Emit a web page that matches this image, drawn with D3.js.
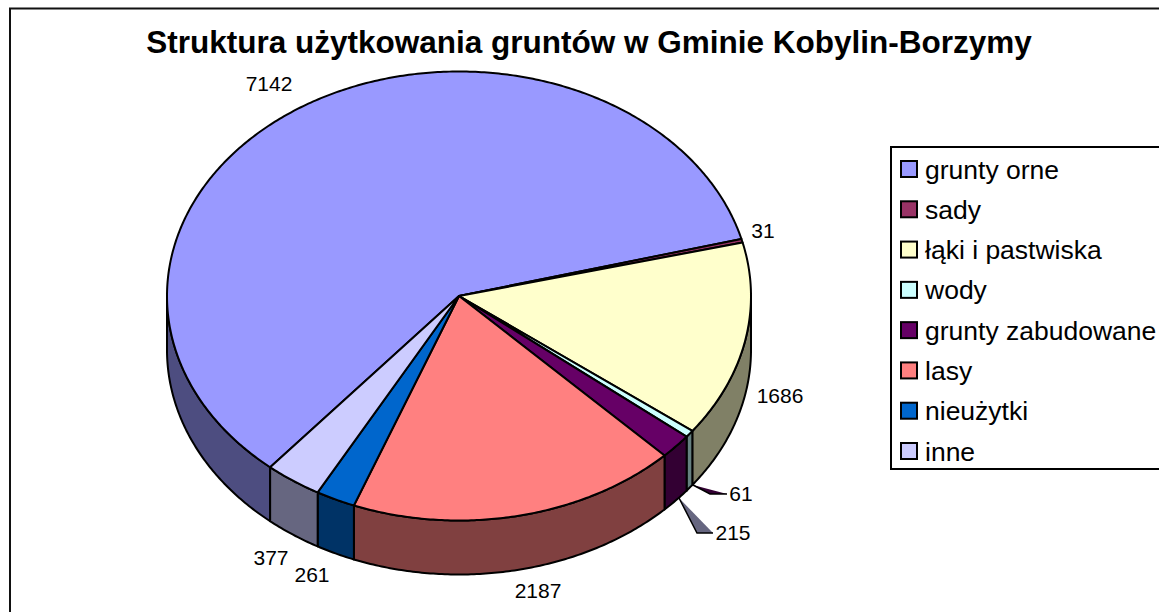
<!DOCTYPE html>
<html><head><meta charset="utf-8">
<script src="https://cdn.jsdelivr.net/npm/d3@7/dist/d3.min.js"></script>
<style>html,body{margin:0;padding:0;background:#fff}svg{display:block}text{font-family:"Liberation Sans",Arial,sans-serif;fill:#000}</style>
</head><body><svg id="c" width="1159" height="612"></svg>
<script>
const categories=["grunty orne","sady","łąki i pastwiska","wody","grunty zabudowane","lasy","nieużytki","inne"];
const values=[7142,31,1686,61,215,2187,261,377];
const topColors=["#9999FF","#993366","#FFFFCC","#CCFFFF","#660066","#FF8080","#0066CC","#CCCCFF"];
const wallColors=["#4D4D80","#4D1A33","#808066","#668080","#330033","#804040","#003366","#666680"];
const titleText="Struktura użytkowania gruntów w Gminie Kobylin-Borzymy";

const svg=d3.select("#c");
const cx=459,cy=296,rx=292,ry=224.5,depth=54;
const rad=d=>d*Math.PI/180;
const sx=d3.scaleLinear().domain([-1,1]).range([cx-rx,cx+rx]);
const sy=d3.scaleLinear().domain([-1,1]).range([cy-ry,cy+ry]);
const start=rad(220.3);
const arcs=d3.pie().sort(null).startAngle(start).endAngle(start+2*Math.PI)(values);
const px=a=>sx(Math.sin(a)), py=a=>sy(-Math.cos(a));
const line=d3.line();
const samples=(a0,a1)=>{const n=Math.max(2,Math.ceil(Math.abs(a1-a0)/0.01));return d3.range(n+1).map(i=>a0+(a1-a0)*i/n);};

svg.append("rect").attr("x",10).attr("y",8.5).attr("width",1200).attr("height",700).attr("fill","#fff").attr("stroke","#111").attr("stroke-width",2);

const g=svg.append("g").attr("stroke","#000").attr("stroke-width",2).attr("stroke-linejoin","round");
arcs.forEach((d,i)=>{
  [0,2*Math.PI].forEach(off=>{
    const a0=Math.max(d.startAngle-off,rad(90)),a1=Math.min(d.endAngle-off,rad(270));
    if(a1<=a0)return;
    const ang=samples(a0,a1);
    const pts=ang.map(a=>[px(a),py(a)]).concat(ang.slice().reverse().map(a=>[px(a),py(a)+depth]));
    g.append("path").attr("d",line(pts)+"Z").attr("fill",wallColors[i]);
  });
});
arcs.forEach((d,i)=>{
  const pts=[[sx(0),sy(0)]].concat(samples(d.startAngle,d.endAngle).map(a=>[px(a),py(a)]));
  g.append("path").attr("d",line(pts)+"Z").attr("fill",topColors[i]);
});

svg.append("text").attr("x",589).attr("y",53).attr("text-anchor","middle").attr("font-size",31.5).attr("font-weight","bold").text(titleText);

const leaders=[{i:3,pts:[[693,485],[710,494],[727,494]]},{i:4,pts:[[679,498],[697,533],[713,533]]}];
const leaderFill=["#330033","#666680"];
leaders.forEach((l,k)=>svg.append("path").attr("d",line(l.pts)+"Z").attr("fill",leaderFill[k]).attr("stroke","none"));
leaders.forEach(l=>svg.append("path").attr("d",line(l.pts)).attr("fill","none").attr("stroke","#000").attr("stroke-width",1.5));

const labelPos=[[269,84],[763,231],[780,396],[741,494],[733,533],[538,591],[312,575],[271,558]];
values.forEach((v,i)=>svg.append("text").attr("x",labelPos[i][0]).attr("y",labelPos[i][1]).attr("dy","0.35em").attr("text-anchor","middle").attr("font-size",21).text(v));

const lg=svg.append("g");
lg.append("rect").attr("x",891).attr("y",147).attr("width",300).attr("height",322).attr("fill","#fff").attr("stroke","#000").attr("stroke-width",2);
const ly=d3.scalePoint().domain(categories).range([169,451]);
categories.forEach((c,i)=>{
  lg.append("rect").attr("x",901).attr("y",ly(c)-8).attr("width",16).attr("height",16).attr("fill",topColors[i]).attr("stroke","#000").attr("stroke-width",2);
  lg.append("text").attr("x",925).attr("y",ly(c)+9.5).attr("font-size",26.5).text(c);
});
</script></body></html>
